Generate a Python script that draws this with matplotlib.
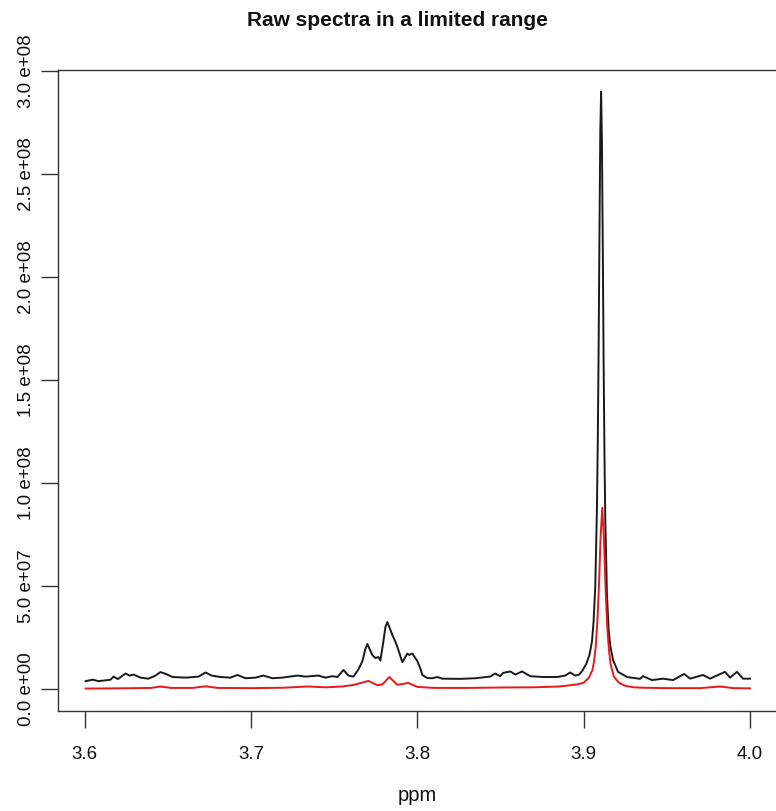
import matplotlib
matplotlib.use("Agg")
import matplotlib.pyplot as plt
from matplotlib.ticker import FixedLocator

plt.rcParams['font.family'] = ['Liberation Sans', 'DejaVu Sans']

# ---- data (intensity in units of 1e7) ----
black_ppm = [3.6006, 3.6048, 3.6084, 3.6126, 3.6156, 3.6174, 3.6200, 3.6246, 3.6270, 3.6294,
             3.6336, 3.6384, 3.6426, 3.6456, 3.6492, 3.6528, 3.6607, 3.6685, 3.6727, 3.6763,
             3.6817, 3.6877, 3.6919, 3.6967, 3.7027, 3.7075, 3.7129, 3.7189, 3.7279, 3.7327,
             3.7405, 3.7447, 3.7490, 3.7520, 3.7556, 3.7586, 3.7616, 3.7646, 3.7670, 3.7688,
             3.7700, 3.7718, 3.7730, 3.7748, 3.7766, 3.7778, 3.7796, 3.7808, 3.7820, 3.7832,
             3.7850, 3.7868, 3.7880, 3.7898, 3.7910, 3.7928, 3.7940, 3.7952, 3.7970, 3.7988,
             3.8000, 3.8018, 3.8030, 3.8060, 3.8090, 3.8120, 3.8150, 3.8258, 3.8348, 3.8438,
             3.8468, 3.8498, 3.8516, 3.8559, 3.8589, 3.8630, 3.8679, 3.8757, 3.8841, 3.8889,
             3.8919, 3.8949, 3.8973, 3.8991, 3.9015, 3.9035, 3.9050, 3.9060, 3.9070, 3.9080,
             3.9085, 3.9090, 3.9095, 3.9100, 3.9105, 3.9110, 3.9115, 3.9120, 3.9125, 3.9130,
             3.9140, 3.9150, 3.9160, 3.9177, 3.9207, 3.9261, 3.9339, 3.9357, 3.9411, 3.9477,
             3.9538, 3.9604, 3.9640, 3.9718, 3.9760, 3.9850, 3.9880, 3.9922, 3.9958, 4.0000]
black_int = [0.38, 0.45, 0.38, 0.42, 0.45, 0.60, 0.48, 0.75, 0.65, 0.70,
             0.55, 0.50, 0.65, 0.82, 0.72, 0.58, 0.55, 0.60, 0.80, 0.65,
             0.58, 0.55, 0.68, 0.52, 0.55, 0.65, 0.52, 0.55, 0.65, 0.60,
             0.65, 0.55, 0.62, 0.58, 0.92, 0.65, 0.60, 0.95, 1.35, 1.95,
             2.18, 1.85, 1.65, 1.50, 1.55, 1.38, 2.30, 3.00, 3.25, 3.00,
             2.62, 2.30, 2.04, 1.60, 1.30, 1.55, 1.72, 1.65, 1.72, 1.50,
             1.36, 1.00, 0.68, 0.53, 0.52, 0.58, 0.50, 0.49, 0.52, 0.60,
             0.75, 0.62, 0.78, 0.85, 0.70, 0.85, 0.62, 0.58, 0.58, 0.65,
             0.80, 0.65, 0.70, 0.87, 1.20, 1.65, 2.30, 3.30, 5.00, 8.80,
             12.0, 16.5, 22.0, 27.0, 29.0, 26.5, 21.5, 16.0, 11.5, 8.30,
             4.60, 2.90, 2.10, 1.40, 0.83, 0.58, 0.49, 0.62, 0.43, 0.50,
             0.43, 0.73, 0.50, 0.68, 0.50, 0.83, 0.55, 0.83, 0.50, 0.50]

red_ppm = [3.6006, 3.6200, 3.6400, 3.6456, 3.6520, 3.6650, 3.6727, 3.6800, 3.7000, 3.7200,
           3.7340, 3.7450, 3.7550, 3.7620, 3.7706, 3.7760, 3.7790, 3.7832, 3.7880, 3.7946,
           3.8000, 3.8100, 3.8300, 3.8500, 3.8700, 3.8850, 3.8920, 3.8960, 3.9000, 3.9032,
           3.9052, 3.9062, 3.9072, 3.9082, 3.9092, 3.9102, 3.9112, 3.9122, 3.9132, 3.9142,
           3.9152, 3.9162, 3.9182, 3.9212, 3.9250, 3.9300, 3.9350, 3.9500, 3.9700, 3.9820,
           3.9900, 4.0000]
red_int = [0.02, 0.03, 0.05, 0.12, 0.05, 0.05, 0.13, 0.05, 0.04, 0.06,
           0.12, 0.08, 0.12, 0.20, 0.39, 0.18, 0.22, 0.58, 0.20, 0.29,
           0.10, 0.05, 0.05, 0.07, 0.08, 0.12, 0.18, 0.22, 0.30, 0.55,
           0.90, 1.30, 2.00, 3.20, 5.00, 7.40, 8.80, 7.30, 4.80, 3.00,
           1.90, 1.20, 0.60, 0.30, 0.15, 0.08, 0.06, 0.04, 0.04, 0.12,
           0.04, 0.03]

x_ticks = [3.6, 3.7, 3.8, 3.9, 4.0]
x_tick_labels = ["3.6", "3.7", "3.8", "3.9", "4.0"]
y_ticks = [0.0, 5.0e7, 1.0e8, 1.5e8, 2.0e8, 2.5e8, 3.0e8]
y_tick_labels = ["0.0 e+00", "5.0 e+07", "1.0 e+08", "1.5 e+08", "2.0 e+08", "2.5 e+08", "3.0 e+08"]

W, H = 776, 811
fig = plt.figure(figsize=(W / 100, H / 100), dpi=100)
left, right, top, bottom = 58, 776.6, 70, 711
ax = fig.add_axes([left / W, 1 - bottom / H, (right - left) / W, (bottom - top) / H])

scale = 1e7
ax.plot(black_ppm, [v * scale for v in black_int], color="#1a1a1a", lw=1.4,
        solid_joinstyle="round")
ax.plot(red_ppm, [v * scale for v in red_int], color="#e8191b", lw=1.4,
        solid_joinstyle="round")

ax.set_xlim(3.584, 4.016)
ax.set_ylim(-1.07e7, 3.005e8)

ax.xaxis.set_major_locator(FixedLocator(x_ticks))
ax.set_xticklabels(x_tick_labels)
ax.yaxis.set_major_locator(FixedLocator(y_ticks))
ax.set_yticklabels(y_tick_labels, rotation=90, va="center")

for sp in ax.spines.values():
    sp.set_color("#333333")
    sp.set_linewidth(1.0)

ax.tick_params(axis="both", direction="out", length=12, width=1.0, color="#333333",
               labelsize=13.5, labelcolor="#111111")
ax.tick_params(axis="x", pad=13)
ax.tick_params(axis="y", pad=4.5)

ax.set_xlabel("ppm", fontsize=14.5, labelpad=17, color="#111111")
fig.text(0.512, 1 - 21 / H, "Raw spectra in a limited range", ha="center", va="center",
         fontsize=15, fontweight="bold", color="#111111")

fig.savefig("out.png", dpi=100)
